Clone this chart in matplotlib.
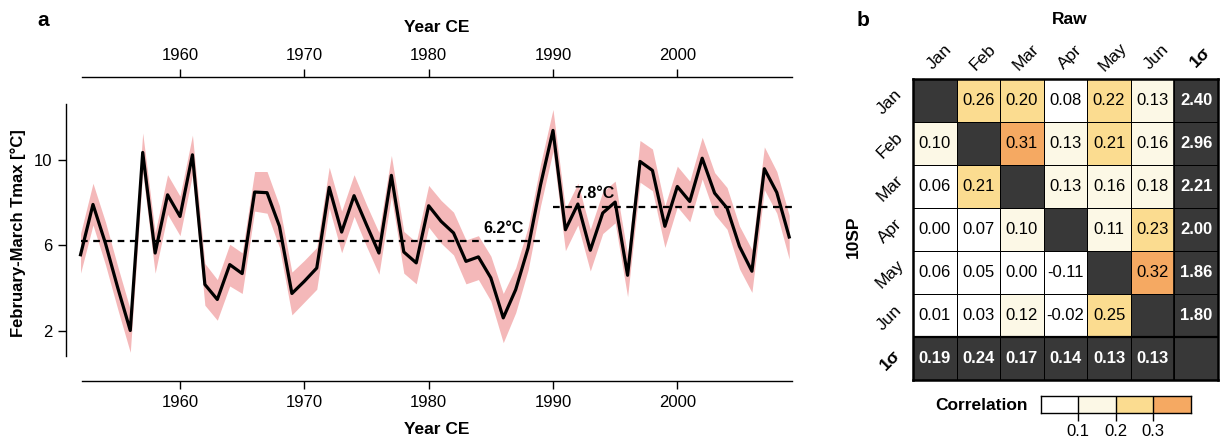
import numpy as np
import matplotlib
matplotlib.use("Agg")
import matplotlib.pyplot as plt
from matplotlib.colors import ListedColormap, BoundaryNorm

plt.rcParams['font.family'] = ['Liberation Sans', 'DejaVu Sans']

# panel a: February-March Tmax reconstruction
years = np.arange(1952, 2010)
tmax = [5.56, 7.91, 6.10, 4.00, 2.02, 10.34, 5.64, 8.36, 7.35, 10.23,
        4.17, 3.47, 5.10, 4.68, 8.49, 8.46, 6.89, 3.75, 4.32, 4.94,
        8.71, 6.62, 8.32, 6.96, 5.64, 9.27, 5.69, 5.18, 7.85, 7.12,
        6.58, 5.25, 5.46, 4.48, 2.61, 3.93, 5.88, 8.83, 11.37, 6.73,
        7.93, 5.77, 7.51, 8.02, 4.60, 9.92, 9.50, 6.89, 8.75, 8.05,
        10.07, 8.44, 7.74, 5.95, 4.79, 9.58, 8.47, 6.39]
tmax_lo = [4.70, 6.95, 5.10, 3.00, 1.00, 9.40, 4.70, 7.45, 6.45, 9.30,
           3.20, 2.50, 4.10, 3.75, 7.60, 7.50, 5.90, 2.75, 3.35, 3.95,
           7.75, 5.65, 7.35, 5.95, 4.65, 8.30, 4.70, 4.20, 6.85, 6.10,
           5.55, 4.20, 4.40, 3.40, 1.45, 2.85, 4.85, 7.85, 10.40, 5.75,
           6.95, 4.80, 6.55, 7.05, 3.60, 8.95, 8.55, 5.90, 7.80, 7.10,
           9.10, 7.45, 6.75, 4.90, 3.80, 8.60, 7.50, 5.35]
tmax_hi = [6.55, 8.90, 7.10, 5.00, 3.00, 11.25, 6.60, 9.30, 8.30, 11.15,
           5.15, 4.40, 6.05, 5.65, 9.45, 9.45, 7.85, 4.75, 5.30, 5.90,
           9.65, 7.60, 9.30, 7.90, 6.60, 10.20, 6.65, 6.15, 8.80, 8.10,
           7.55, 6.25, 6.45, 5.50, 3.75, 4.95, 6.85, 9.80, 12.35, 7.70,
           8.90, 6.75, 8.50, 9.00, 5.55, 10.90, 10.50, 7.85, 9.70, 9.00,
           11.05, 9.40, 8.70, 6.90, 5.80, 10.60, 9.45, 7.40]
mean_early, mean_late = 6.2, 7.8

# panel b: correlation matrix (rows 10SP, columns Raw), nan = diagonal
months = ['Jan', 'Feb', 'Mar', 'Apr', 'May', 'Jun']
corr = np.array([
    [np.nan, 0.26, 0.20, 0.08, 0.22, 0.13],
    [0.10, np.nan, 0.31, 0.13, 0.21, 0.16],
    [0.06, 0.21, np.nan, 0.13, 0.16, 0.18],
    [0.00, 0.07, 0.10, np.nan, 0.11, 0.23],
    [0.06, 0.05, 0.00, -0.11, np.nan, 0.32],
    [0.01, 0.03, 0.12, -0.02, 0.25, np.nan]])
sd_10sp = [2.40, 2.96, 2.21, 2.00, 1.86, 1.80]
sd_raw = [0.19, 0.24, 0.17, 0.14, 0.13, 0.13]
bounds = [0.0, 0.1, 0.2, 0.3, 0.4]
colors = ['#ffffff', '#fcf8e6', '#fbdc90', '#f5a962']
dark = '#383838'

W, H = 1222, 441
fig = plt.figure(figsize=(W / 100, H / 100), dpi=100)

# ---------- a ----------
ax = fig.add_axes([66 / W, 1 - 381 / H, (791.7 - 66) / W, (381 - 76.7) / H])
ax.fill_between(years, tmax_lo, tmax_hi, color='#f4b8b9', lw=0)
ax.plot(years, tmax, color='black', lw=2.3)
ax.plot([1952, 1989], [mean_early] * 2, 'k--', lw=1.6, dashes=(3, 2.5))
ax.plot([1990, 2009.2], [mean_late] * 2, 'k--', lw=1.6, dashes=(3, 2.5))
ax.text(1986, 6.78, '6.2°C', ha='center', va='center', fontsize=11.5, fontweight='bold')
ax.text(1993.35, 8.4, '7.8°C', ha='center', va='center', fontsize=11.5, fontweight='bold')

ax.set_xlim(1950.83, 2009.2)
ax.set_ylim(-0.34, 13.88)
ax.spines['right'].set_visible(False)
ax.spines['left'].set_bounds(0.83, 12.6)
ax.spines['bottom'].set_bounds(1952.1, 2009.2)
ax.spines['top'].set_bounds(1952.1, 2009.2)
for s in ax.spines.values():
    s.set_linewidth(1.0)
ax.set_xticks([1960, 1970, 1980, 1990, 2000])
ax.set_yticks([2, 6, 10])
ax.tick_params(top=True, labeltop=True, length=6, width=1, labelsize=12, pad=4)

fig.text(437 / W, 1 - 27 / H, 'Year CE', ha='center', va='center', fontsize=12.5, fontweight='bold')
fig.text(437 / W, 1 - 430 / H, 'Year CE', ha='center', va='center', fontsize=12.5, fontweight='bold')
fig.text(18 / W, 1 - 233.5 / H, 'February-March Tmax [°C]', rotation=90, ha='center', va='center',
         fontsize=12, fontweight='bold')
fig.text(43 / W, 1 - 20 / H, 'a', ha='center', va='center', fontsize=15, fontweight='bold')

# ---------- b ----------
ax2 = fig.add_axes([913 / W, 1 - 380 / H, (1218 - 913) / W, (380 - 78.5) / H])
n = len(months)
full = np.full((n + 1, n + 1), np.nan)
full[:n, :n] = corr
cmap = ListedColormap(colors)
norm = BoundaryNorm([-1, 0.1, 0.2, 0.3, 1], cmap.N)
edges = np.arange(n + 2)
ax2.pcolormesh(edges, edges, np.ma.masked_invalid(full), cmap=cmap, norm=norm,
               edgecolors='black', linewidth=0.7)
darkmask = np.where(np.isnan(full), 1.0, np.nan)
ax2.pcolormesh(edges, edges, np.ma.masked_invalid(darkmask), cmap=ListedColormap([dark]),
               edgecolors='black', linewidth=0.7)
ax2.set_xlim(0, n + 1)
ax2.set_ylim(n + 1, 0)
ax2.set_xticks([])
ax2.set_yticks([])
for s in ax2.spines.values():
    s.set_linewidth(1.8)
ax2.axhline(n, color='black', lw=1.6)
ax2.axvline(n, color='black', lw=1.2)

for i in range(n):
    for j in range(n):
        if i != j:
            ax2.text(j + 0.5, i + 0.5, f'{corr[i, j]:.2f}', ha='center', va='center', fontsize=12)
    ax2.text(n + 0.5, i + 0.5, f'{sd_10sp[i]:.2f}', ha='center', va='center', fontsize=12,
             color='white', fontweight='bold')
    ax2.text(i + 0.5, n + 0.5, f'{sd_raw[i]:.2f}', ha='center', va='center', fontsize=12,
             color='white', fontweight='bold')

col_labels = months + ['1σ']
for k, lab in enumerate(col_labels):
    bold = 'bold' if lab == '1σ' else 'normal'
    ax2.text(k + 0.6, -0.5, lab, rotation=45, ha='center', va='center', fontsize=12.5,
             fontweight=bold, clip_on=False)
    ax2.text(-0.53, k + 0.55, lab, rotation=45, ha='center', va='center', fontsize=12.5,
             fontweight=bold, clip_on=False)

fig.text(1070 / W, 1 - 20 / H, 'Raw', ha='center', va='center', fontsize=12.5, fontweight='bold')
fig.text(853 / W, 1 - 237 / H, '10SP', rotation=90, ha='center', va='center', fontsize=12.5,
         fontweight='bold')
fig.text(863 / W, 1 - 20 / H, 'b', ha='center', va='center', fontsize=15, fontweight='bold')

# colour key
cax = fig.add_axes([1040.7 / W, 1 - 413.3 / H, 150 / W, 17.6 / H])
cax.pcolormesh(bounds, [0, 1], [[0.05, 0.15, 0.25, 0.35]], cmap=cmap, norm=norm,
               edgecolors='none')
cax.vlines([0.1, 0.2, 0.3], 0, 1, color='black', lw=1)
cax.set_xlim(0, 0.4)
cax.set_ylim(0, 1)
cax.set_yticks([])
cax.set_xticks([0.1, 0.2, 0.3])
cax.set_xticklabels(['0.1', '0.2', '0.3'])
cax.tick_params(length=6, width=1, labelsize=12, pad=2)
for s in cax.spines.values():
    s.set_linewidth(1.0)
fig.text(981 / W, 1 - 405 / H, 'Correlation', ha='center', va='center', fontsize=12.5,
         fontweight='bold')

fig.savefig('out.png', dpi=100)
